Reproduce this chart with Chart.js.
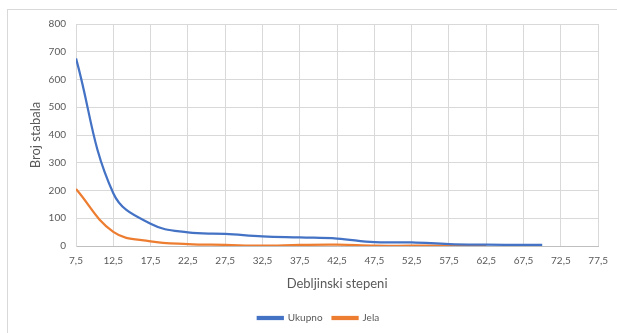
<!DOCTYPE html>
<html>
<head>
<meta charset="utf-8">
<script src="https://cdn.jsdelivr.net/npm/chart.js@4/dist/chart.umd.min.js"></script>
<style>
  html, body { margin: 0; padding: 0; background: #fff; }
  #wrap { position: relative; width: 617px; height: 333px; overflow: hidden; }
  #frame { position: absolute; left: 7px; top: 9px; width: 700px; height: 400px; border: 1px solid #d9d9d9; box-sizing: border-box; }
  canvas { position: absolute; left: 0; top: 0; }
</style>
</head>
<body>
<div id="wrap">
  <div id="frame"></div>
  <canvas id="c" width="617" height="333"></canvas>
</div>
<script>
// Data
const ukupnoX = [7.5, 12.5, 17.5, 22.5, 27.5, 32.5, 37.5, 42.5, 47.5, 52.5, 57.5, 62.5, 67.5, 70];
const ukupnoY = [676, 190, 80, 49, 44, 35, 31, 27, 14, 13, 7, 5, 4, 4];
const jelaX = [7.5, 12.5, 17.5, 22.5, 27.5, 32.5, 37.5, 42.5, 47.5, 52.5, 57.5, 62.5];
const jelaY = [205, 51, 17, 7, 4, 1, 4, 5, 1, 1, 1, 1];
const xTicks = [7.5, 12.5, 17.5, 22.5, 27.5, 32.5, 37.5, 42.5, 47.5, 52.5, 57.5, 62.5, 67.5, 72.5, 77.5];
const seriesNames = ['Ukupno', 'Jela'];
const xTitle = 'Debljinski stepeni';
const yTitle = 'Broj stabala';

const toPts = (xs, ys) => xs.map((x, i) => ({ x: x, y: ys[i] }));
const FONT = 'Lato';
const GRAY = '#595959';

// shift the legend so it is centred like the original frame
const legendShift = {
  id: 'legendShift',
  afterLayout(chart) { if (chart.legend) { chart.legend.left += 38; } }
};

new Chart(document.getElementById('c'), {
  type: 'scatter',
  data: {
    datasets: [
      { label: seriesNames[0], data: toPts(ukupnoX, ukupnoY), showLine: true, borderColor: '#4472C4', backgroundColor: '#4472C4', borderWidth: 2.25, pointRadius: 0, tension: 0.4 },
      { label: seriesNames[1], data: toPts(jelaX, jelaY), showLine: true, borderColor: '#ED7D31', backgroundColor: '#ED7D31', borderWidth: 2.25, pointRadius: 0, tension: 0.4 }
    ]
  },
  plugins: [legendShift],
  options: {
    responsive: false,
    animation: false,
    devicePixelRatio: 1,
    layout: { padding: { top: 24, right: 18, left: 0, bottom: 0 } },
    plugins: {
      tooltip: { enabled: false },
      legend: {
        position: 'bottom',
        labels: { boxWidth: 25, boxHeight: 2, color: GRAY, font: { family: FONT, size: 10 }, padding: 10 }
      }
    },
    scales: {
      x: {
        type: 'linear',
        min: 7.5, max: 77.5,
        afterBuildTicks: (s) => { s.ticks = xTicks.map(v => ({ value: v })); },
        afterFit: (s) => { s.height = 57; },
        grid: { color: '#d9d9d9', drawTicks: false },
        border: { color: '#bfbfbf' },
        ticks: { color: GRAY, font: { family: FONT, size: 10 }, padding: 9, maxRotation: 0, autoSkip: false,
          callback: (v) => String(v).replace('.', ',') },
        title: { display: true, text: xTitle, color: GRAY, font: { family: FONT, size: 13 }, padding: { top: 0, bottom: 11 } }
      },
      y: {
        min: 0, max: 800,
        afterFit: (s) => { s.width = 76; },
        grid: { color: '#d9d9d9', drawTicks: false },
        border: { color: '#d9d9d9' },
        ticks: { stepSize: 100, color: GRAY, font: { family: FONT, size: 10 }, padding: 10 },
        title: { display: true, text: yTitle, color: GRAY, font: { family: FONT, size: 13 }, padding: { top: 28, bottom: 0 } }
      }
    }
  }
});
</script>
</body>
</html>
